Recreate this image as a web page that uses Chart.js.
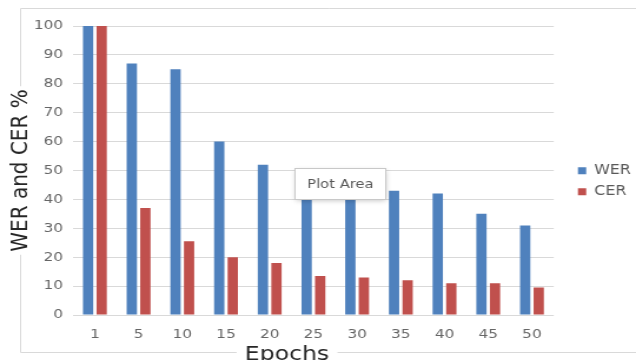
<!DOCTYPE html>
<html>
<head>
<meta charset="utf-8">
<script src="https://cdn.jsdelivr.net/npm/chart.js@4.4.1/dist/chart.umd.min.js"></script>
<style>
  html, body { margin: 0; padding: 0; background: #fff; overflow: hidden; }
  #chart { display: block; }
</style>
</head>
<body>
<!-- drawn on a 540px-wide canvas and displayed 636px wide -->
<canvas id="chart" width="540" height="360" style="width:636px;height:360px"></canvas>
<script>
// ---- data ----
const epochs = ['1', '5', '10', '15', '20', '25', '30', '35', '40', '45', '50'];
const werValues = [100, 87, 85, 60, 52, 45, 44, 43, 42, 35, 31];
const cerValues = [100, 37, 25.5, 20, 18, 13.5, 13, 12, 11, 11, 9.5];
const yTickValues = [0, 10, 20, 30, 40, 50, 60, 70, 80, 90, 100];
const seriesNames = ['WER', 'CER'];
const xTitle = 'Epochs';
const yTitle = 'WER and CER %';
const noteText = 'Plot Area';

// ---- style ----
const FONT = '"DejaVu Sans", sans-serif';
const BLUE = '#4F81BD';
const RED = '#C0504D';
const GRID = '#d9d9d9';
const TICK_COLOR = '#666666';
const TITLE_COLOR = '#262626';
const Y_TITLE_SIZE = 20;
const X_TITLE_SIZE = 20;
const X_TITLE_CX = 243.7;

// outer frame of the chart object, with gaps behind the axis titles
const frame = {
  id: 'frame',
  beforeDraw(chart) {
    const { ctx, chartArea } = chart;
    ctx.save();
    ctx.strokeStyle = GRID;
    ctx.lineWidth = 1;
    ctx.font = `${Y_TITLE_SIZE}px ${FONT}`;
    const yHalf = ctx.measureText(yTitle).width / 2 + 3;
    const yMid = (chartArea.top + chartArea.bottom) / 2;
    ctx.font = `${X_TITLE_SIZE}px ${FONT}`;
    const xHalf = ctx.measureText(xTitle).width / 2 + 7;
    const L = 17.5, T = 8.5, B = 352.5, R = chart.width + 2;
    ctx.beginPath();
    ctx.moveTo(L, yMid - yHalf); ctx.lineTo(L, T); ctx.lineTo(R, T);
    ctx.moveTo(L, yMid + yHalf); ctx.lineTo(L, B); ctx.lineTo(X_TITLE_CX - xHalf, B);
    ctx.moveTo(X_TITLE_CX + xHalf, B); ctx.lineTo(R, B);
    ctx.stroke();
    ctx.restore();
  }
};

// category axis caption, set left of the plot centre and sitting on the frame
const xCaption = {
  id: 'xCaption',
  afterDraw(chart) {
    const { ctx } = chart;
    ctx.save();
    ctx.font = `${X_TITLE_SIZE}px ${FONT}`;
    ctx.fillStyle = TITLE_COLOR;
    ctx.textAlign = 'center';
    ctx.textBaseline = 'alphabetic';
    ctx.fillText(xTitle, X_TITLE_CX, 359.5);
    ctx.restore();
  }
};

// legend placed to the right of the plot
const legendPlacement = {
  id: 'legendPlacement',
  afterLayout(chart) {
    const lg = chart.legend;
    if (!lg) return;
    const w = lg.width;
    lg.left = 483.2;
    lg.right = lg.left + w;
    lg.top = 156.5;
    lg.bottom = lg.top + 60;
  }
};

// hover label box over the plot
const hoverNote = {
  id: 'hoverNote',
  afterDraw(chart) {
    const { ctx } = chart;
    const x = 250.5, y = 168.5, w = 77, h = 31;
    ctx.save();
    ctx.shadowColor = 'rgba(0,0,0,0.25)';
    ctx.shadowBlur = 5;
    ctx.shadowOffsetX = 0;
    ctx.shadowOffsetY = 1;
    ctx.fillStyle = '#ffffff';
    ctx.fillRect(x, y, w, h);
    ctx.shadowColor = 'transparent';
    ctx.strokeStyle = '#c8c8c8';
    ctx.lineWidth = 1;
    ctx.strokeRect(x, y, w, h);
    ctx.fillStyle = '#595959';
    ctx.font = `12.5px ${FONT}`;
    ctx.textAlign = 'center';
    ctx.textBaseline = 'middle';
    ctx.fillText(noteText, x + w / 2, y + h / 2 + 0.5);
    ctx.restore();
  }
};

new Chart(document.getElementById('chart'), {
  type: 'bar',
  data: {
    labels: epochs,
    datasets: [
      { label: seriesNames[0], data: werValues, backgroundColor: BLUE, borderWidth: 0 },
      { label: seriesNames[1], data: cerValues, backgroundColor: RED, borderWidth: 0 }
    ]
  },
  options: {
    responsive: false,
    animation: false,
    devicePixelRatio: 1,
    layout: { padding: { top: 26, right: 69.8, bottom: 0, left: 0 } },
    datasets: {
      bar: { categoryPercentage: 0.62, barPercentage: 0.76 }
    },
    scales: {
      x: {
        grid: { display: false },
        border: { display: false },
        ticks: {
          color: TICK_COLOR,
          font: { family: FONT, size: 13 },
          padding: 4,
          maxRotation: 0,
          autoSkip: false
        },
        afterFit(scale) { scale.height = 45; }
      },
      y: {
        min: 0,
        max: 100,
        afterBuildTicks(scale) { scale.ticks = yTickValues.map(v => ({ value: v })); },
        grid: { color: GRID, lineWidth: 1, drawTicks: false },
        border: { display: false },
        ticks: {
          color: TICK_COLOR,
          font: { family: FONT, size: 13 },
          padding: 8.5
        },
        title: {
          display: true,
          text: yTitle,
          color: TITLE_COLOR,
          font: { family: FONT, size: Y_TITLE_SIZE },
          padding: { top: 6, bottom: 0 }
        },
        afterFit(scale) { scale.width = 62; }
      }
    },
    plugins: {
      legend: {
        position: 'chartArea',
        align: 'start',
        labels: {
          boxWidth: 7,
          boxHeight: 7,
          padding: 7.5,
          color: '#595959',
          textAlign: 'left',
          font: { family: FONT, size: 13.5 }
        }
      },
      tooltip: { enabled: false }
    }
  },
  plugins: [frame, legendPlacement, xCaption, hoverNote]
});
</script>
</body>
</html>
